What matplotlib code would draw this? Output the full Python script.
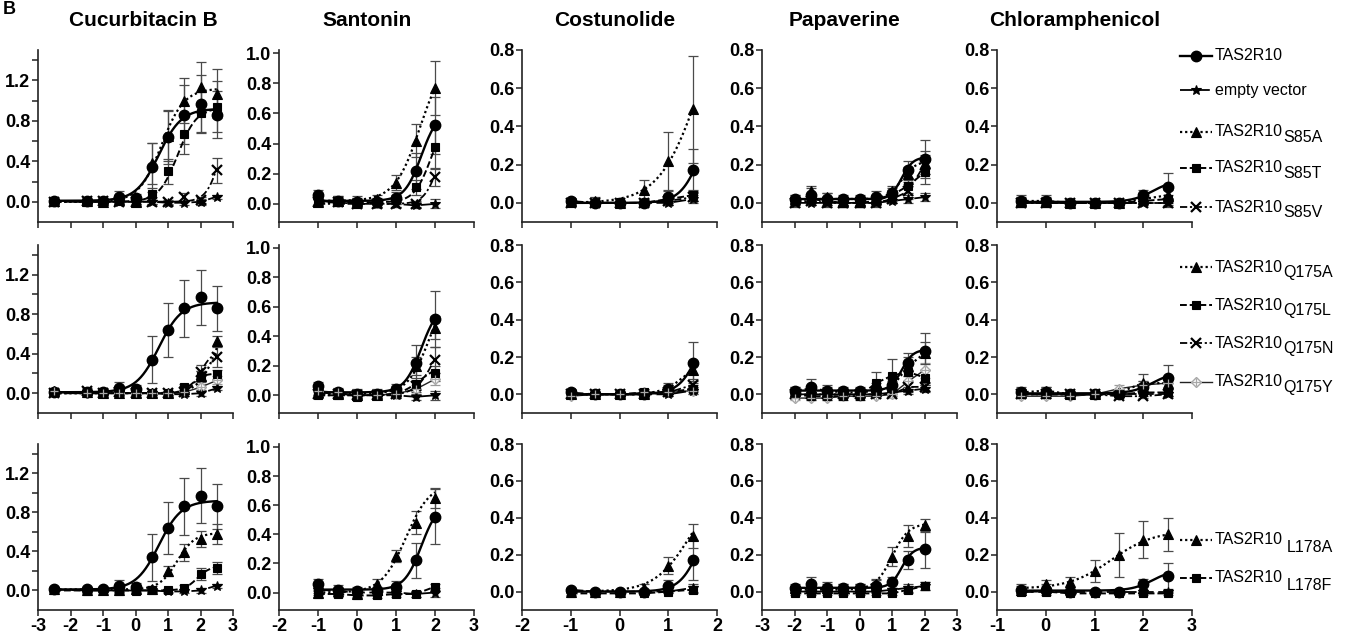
import numpy as np
import matplotlib
matplotlib.use('Agg')
import matplotlib.pyplot as plt

plt.rcParams['font.family'] = ['Liberation Sans', 'DejaVu Sans']
plt.rcParams['axes.unicode_minus'] = False

W, H = 1346, 637

# ---------------------------------------------------------------------------
# data: log concentration (x), mean response, SD, optional Hill fit
# fit = [bottom, top, logEC50, hill slope]; None -> points joined directly
# ---------------------------------------------------------------------------
# Cucurbitacin B
cuc_x = [-2.5, -1.5, -1, -0.5, 0, 0.5, 1, 1.5, 2, 2.5]
cuc_wt = [0.01, 0.01, 0.01, 0.05, 0.04, 0.34, 0.64, 0.86, 0.97, 0.86]
cuc_wt_sd = [0.02, 0.02, 0.03, 0.06, 0.04, 0.24, 0.27, 0.29, 0.28, 0.23]
cuc_wt_fit = [0.01, 0.92, 0.72, 1.25]
cuc_ev = [0.01, 0.0, 0.0, 0.0, 0.0, 0.0, -0.01, -0.01, 0.0, 0.05]
cuc_ev_sd = [0.02, 0.02, 0.02, 0.02, 0.02, 0.02, 0.02, 0.02, 0.03, 0.02]
cuc_s85a = [0.01, 0.01, 0.0, 0.02, 0.0, 0.38, 0.65, 1.0, 1.13, 1.07]
cuc_s85a_sd = [0.02, 0.02, 0.03, 0.03, 0.03, 0.2, 0.25, 0.22, 0.25, 0.24]
cuc_s85a_fit = [0.0, 1.12, 0.8, 1.25]
cuc_s85t = [0.0, 0.0, 0.0, 0.03, 0.0, 0.08, 0.3, 0.67, 0.88, 0.94]
cuc_s85t_sd = [0.02, 0.02, 0.03, 0.04, 0.02, 0.06, 0.12, 0.2, 0.2, 0.25]
cuc_s85t_fit = [0.0, 0.93, 1.3, 1.5]
cuc_s85v = [0.0, 0.01, 0.01, 0.0, 0.0, 0.0, 0.0, 0.05, 0.02, 0.31]
cuc_s85v_sd = [0.02, 0.02, 0.02, 0.02, 0.02, 0.02, 0.02, 0.04, 0.03, 0.12]
cuc_s85v_fit = [0.0, 1.0, 2.65, 2.0]
cuc_q175a = [0.02, 0.01, 0.0, 0.0, 0.0, 0.0, 0.0, 0.04, 0.17, 0.53]
cuc_q175a_sd = [0.02, 0.02, 0.03, 0.02, 0.02, 0.02, 0.02, 0.03, 0.06, 0.05]
cuc_q175a_fit = [0.0, 1.0, 2.55, 1.5]
cuc_q175l = [0.01, 0.0, 0.01, 0.0, 0.0, 0.0, 0.0, 0.06, 0.17, 0.19]
cuc_q175l_sd = [0.02, 0.02, 0.02, 0.02, 0.02, 0.02, 0.02, 0.03, 0.05, 0.05]
cuc_q175l_fit = [0.0, 0.2, 1.75, 2.5]
cuc_q175n = [0.0, 0.02, 0.0, 0.01, 0.0, 0.0, 0.0, 0.01, 0.21, 0.37]
cuc_q175n_sd = [0.02, 0.03, 0.02, 0.02, 0.02, 0.02, 0.02, 0.02, 0.08, 0.1]
cuc_q175n_fit = [0.0, 0.42, 2.0, 2.5]
cuc_q175y = [0.02, 0.0, 0.0, 0.0, 0.0, 0.0, 0.0, 0.01, 0.06, 0.13]
cuc_q175y_sd = [0.02, 0.02, 0.02, 0.02, 0.02, 0.02, 0.02, 0.02, 0.03, 0.04]
cuc_l178a = [0.01, 0.0, 0.0, 0.0, 0.01, 0.02, 0.2, 0.39, 0.53, 0.58]
cuc_l178a_sd = [0.02, 0.02, 0.02, 0.02, 0.02, 0.03, 0.05, 0.09, 0.08, 0.1]
cuc_l178a_fit = [0.01, 0.59, 1.28, 1.6]
cuc_l178f = [0.0, -0.01, 0.0, -0.01, -0.01, 0.0, 0.0, 0.03, 0.17, 0.23]
cuc_l178f_sd = [0.02, 0.02, 0.02, 0.02, 0.02, 0.02, 0.02, 0.03, 0.06, 0.06]
cuc_l178f_fit = [0.0, 0.25, 1.9, 2.2]

# Santonin
san_x = [-1, -0.5, 0, 0.5, 1, 1.5, 2]
san_wt = [0.06, 0.02, 0.01, 0.01, 0.04, 0.22, 0.52]
san_wt_sd = [0.03, 0.03, 0.03, 0.03, 0.04, 0.12, 0.19]
san_wt_fit = [0.02, 0.62, 1.65, 2.0]
san_ev = [0.02, 0.01, 0.0, 0.0, 0.0, -0.01, 0.0]
san_ev_sd = [0.02, 0.02, 0.02, 0.02, 0.02, 0.02, 0.03]
san_s85a = [0.01, 0.02, 0.02, 0.03, 0.14, 0.42, 0.77]
san_s85a_sd = [0.02, 0.03, 0.03, 0.03, 0.05, 0.11, 0.18]
san_s85a_fit = [0.02, 1.0, 1.62, 1.34]
san_s85t = [0.02, 0.01, 0.0, 0.01, 0.03, 0.11, 0.38]
san_s85t_sd = [0.02, 0.02, 0.02, 0.02, 0.03, 0.05, 0.15]
san_s85t_fit = [0.01, 0.6, 1.9, 2.0]
san_s85v = [0.01, 0.01, 0.0, 0.0, 0.0, 0.0, 0.18]
san_s85v_sd = [0.02, 0.02, 0.02, 0.02, 0.02, 0.02, 0.06]
san_s85v_fit = [0.0, 0.45, 2.05, 2.5]
san_q175a = [0.02, 0.01, 0.0, 0.0, 0.03, 0.2, 0.46]
san_q175a_sd = [0.02, 0.02, 0.02, 0.02, 0.03, 0.06, 0.08]
san_q175a_fit = [0.01, 0.75, 1.85, 1.6]
san_q175l = [0.0, 0.0, -0.01, 0.0, 0.02, 0.08, 0.15]
san_q175l_sd = [0.02, 0.02, 0.02, 0.02, 0.02, 0.04, 0.05]
san_q175l_fit = [0.0, 0.2, 1.6, 1.8]
san_q175n = [0.01, 0.01, 0.0, 0.0, 0.01, 0.06, 0.24]
san_q175n_sd = [0.02, 0.02, 0.02, 0.02, 0.02, 0.04, 0.09]
san_q175n_fit = [0.0, 0.5, 2.0, 1.8]
san_q175y = [0.03, 0.02, 0.0, 0.0, 0.01, 0.04, 0.11]
san_q175y_sd = [0.02, 0.02, 0.02, 0.02, 0.02, 0.03, 0.04]
san_l178a = [0.0, 0.01, -0.01, 0.06, 0.25, 0.48, 0.65]
san_l178a_sd = [0.02, 0.02, 0.02, 0.03, 0.04, 0.08, 0.07]
san_l178a_fit = [0.0, 0.75, 1.25, 1.4]
san_l178f = [-0.01, -0.01, -0.02, -0.02, -0.01, -0.01, 0.04]
san_l178f_sd = [0.02, 0.02, 0.02, 0.02, 0.02, 0.02, 0.02]

# Costunolide
cos_x = [-1, -0.5, 0, 0.5, 1, 1.5]
cos_wt = [0.01, 0.0, 0.0, 0.0, 0.03, 0.17]
cos_wt_sd = [0.01, 0.01, 0.01, 0.01, 0.03, 0.11]
cos_wt_fit = [0.0, 0.55, 1.7, 2.0]
cos_ev = [0.01, 0.0, 0.0, 0.0, 0.0, 0.02]
cos_ev_sd = [0.01, 0.01, 0.01, 0.01, 0.01, 0.02]
cos_s85a = [0.01, 0.01, 0.0, 0.07, 0.22, 0.49]
cos_s85a_sd = [0.01, 0.02, 0.01, 0.05, 0.15, 0.28]
cos_s85a_fit = [0.0, 1.2, 1.65, 1.05]
cos_s85t = [0.0, 0.0, 0.0, 0.0, 0.02, 0.04]
cos_s85t_sd = [0.01, 0.01, 0.01, 0.01, 0.02, 0.03]
cos_s85v = [0.0, 0.0, 0.0, 0.0, 0.01, 0.03]
cos_s85v_sd = [0.01, 0.01, 0.01, 0.01, 0.02, 0.02]
cos_q175a = [0.0, 0.0, 0.0, 0.0, 0.03, 0.13]
cos_q175a_sd = [0.01, 0.01, 0.01, 0.01, 0.02, 0.05]
cos_q175l = [0.0, 0.0, 0.0, 0.01, 0.01, 0.03]
cos_q175l_sd = [0.01, 0.01, 0.01, 0.01, 0.01, 0.02]
cos_q175n = [0.0, 0.0, 0.0, 0.0, 0.01, 0.05]
cos_q175n_sd = [0.01, 0.01, 0.01, 0.01, 0.01, 0.02]
cos_q175y = [-0.01, 0.0, 0.0, 0.01, 0.01, 0.02]
cos_q175y_sd = [0.01, 0.01, 0.01, 0.01, 0.01, 0.02]
cos_l178a = [0.0, 0.0, 0.0, 0.02, 0.14, 0.3]
cos_l178a_sd = [0.01, 0.01, 0.01, 0.02, 0.045, 0.065]
cos_l178a_fit = [0.0, 0.6, 1.45, 1.2]
cos_l178f = [-0.01, -0.01, -0.01, -0.01, 0.0, 0.01]
cos_l178f_sd = [0.01, 0.01, 0.01, 0.01, 0.01, 0.02]

# Papaverine
pap_x = [-2, -1.5, -1, -0.5, 0, 0.5, 1, 1.5, 2]
pap_wt = [0.02, 0.04, 0.02, 0.02, 0.02, 0.03, 0.05, 0.17, 0.23]
pap_wt_sd = [0.02, 0.04, 0.03, 0.02, 0.02, 0.03, 0.03, 0.05, 0.1]
pap_wt_fit = [0.02, 0.24, 1.3, 2.5]
pap_ev = [0.0, 0.0, 0.0, 0.0, 0.0, 0.0, 0.01, 0.02, 0.03]
pap_ev_sd = [0.01, 0.01, 0.01, 0.01, 0.01, 0.01, 0.01, 0.02, 0.02]
pap_s85a = [0.02, 0.06, 0.03, 0.01, 0.01, 0.02, 0.06, 0.15, 0.21]
pap_s85a_sd = [0.02, 0.03, 0.02, 0.02, 0.02, 0.02, 0.03, 0.04, 0.06]
pap_s85a_fit = [0.02, 0.22, 1.3, 2.0]
pap_s85t = [0.01, 0.02, 0.01, 0.0, 0.0, 0.01, 0.04, 0.09, 0.16]
pap_s85t_sd = [0.02, 0.02, 0.02, 0.02, 0.02, 0.02, 0.03, 0.04, 0.06]
pap_s85v = [0.0, 0.01, 0.0, 0.0, 0.0, 0.0, 0.02, 0.06, 0.2]
pap_s85v_sd = [0.02, 0.02, 0.02, 0.02, 0.02, 0.02, 0.02, 0.04, 0.05]
pap_q175a = [0.02, 0.03, 0.02, 0.01, 0.01, 0.02, 0.04, 0.15, 0.22]
pap_q175a_sd = [0.02, 0.02, 0.02, 0.02, 0.02, 0.02, 0.03, 0.05, 0.06]
pap_q175l = [0.0, -0.01, -0.01, -0.01, -0.01, 0.06, 0.1, 0.12, 0.09]
pap_q175l_sd = [0.02, 0.02, 0.02, 0.02, 0.02, 0.06, 0.09, 0.05, 0.04]
pap_q175n = [0.0, 0.0, 0.0, 0.0, 0.0, 0.0, 0.0, 0.04, 0.04]
pap_q175n_sd = [0.01, 0.01, 0.01, 0.01, 0.01, 0.01, 0.01, 0.03, 0.02]
pap_q175y = [-0.02, -0.02, -0.02, -0.01, -0.01, -0.01, 0.0, 0.07, 0.13]
pap_q175y_sd = [0.01, 0.01, 0.01, 0.01, 0.01, 0.01, 0.02, 0.03, 0.04]
pap_l178a = [0.02, 0.02, 0.02, 0.02, 0.02, 0.04, 0.19, 0.3, 0.36]
pap_l178a_sd = [0.01, 0.02, 0.02, 0.02, 0.02, 0.03, 0.05, 0.06, 0.035]
pap_l178a_fit = [0.01, 0.37, 1.0, 1.7]
pap_l178f = [-0.01, -0.01, -0.01, -0.01, -0.01, -0.01, -0.01, 0.01, 0.03]
pap_l178f_sd = [0.01, 0.01, 0.01, 0.01, 0.01, 0.01, 0.01, 0.02, 0.02]

# Chloramphenicol
chl_x = [-0.5, 0, 0.5, 1, 1.5, 2, 2.5]
chl_wt = [0.01, 0.01, 0.0, 0.0, 0.0, 0.04, 0.085]
chl_wt_sd = [0.03, 0.03, 0.01, 0.01, 0.01, 0.03, 0.07]
chl_wt_fit = [0.005, 0.12, 2.2, 2.0]
chl_ev = [0.0, 0.0, 0.0, 0.0, 0.0, 0.0, 0.0]
chl_ev_sd = [0.01, 0.01, 0.01, 0.01, 0.01, 0.01, 0.01]
chl_s85a = [0.01, 0.01, 0.0, 0.0, 0.0, 0.02, 0.04]
chl_s85a_sd = [0.02, 0.02, 0.01, 0.01, 0.01, 0.02, 0.03]
chl_s85t = [0.0, 0.0, 0.0, 0.0, 0.0, 0.01, 0.02]
chl_s85t_sd = [0.01, 0.01, 0.01, 0.01, 0.01, 0.01, 0.02]
chl_s85v = [0.0, 0.0, 0.0, 0.0, 0.0, 0.0, 0.0]
chl_s85v_sd = [0.01, 0.01, 0.01, 0.01, 0.01, 0.01, 0.02]
chl_q175a = [0.01, 0.02, 0.0, 0.0, 0.01, 0.06, 0.06]
chl_q175a_sd = [0.02, 0.02, 0.01, 0.01, 0.01, 0.05, 0.03]
chl_q175l = [0.0, 0.0, 0.0, 0.0, 0.0, 0.01, 0.01]
chl_q175l_sd = [0.01, 0.01, 0.01, 0.01, 0.01, 0.01, 0.02]
chl_q175n = [0.0, 0.0, 0.0, 0.0, -0.01, -0.01, 0.0]
chl_q175n_sd = [0.01, 0.01, 0.01, 0.01, 0.01, 0.01, 0.01]
chl_q175y = [-0.01, -0.01, -0.01, 0.0, 0.03, 0.05, 0.06]
chl_q175y_sd = [0.01, 0.01, 0.01, 0.01, 0.02, 0.02, 0.03]
chl_l178a = [0.01, 0.04, 0.05, 0.11, 0.2, 0.28, 0.31]
chl_l178a_sd = [0.02, 0.02, 0.03, 0.06, 0.12, 0.1, 0.09]
chl_l178a_fit = [0.015, 0.33, 1.35, 1.0]
chl_l178f = [0.0, 0.0, -0.01, -0.01, -0.01, -0.01, -0.01]
chl_l178f_sd = [0.01, 0.01, 0.01, 0.01, 0.01, 0.01, 0.01]

compounds = ['Cucurbitacin B', 'Santonin', 'Costunolide', 'Papaverine', 'Chloramphenicol']
prefixes = ['cuc', 'san', 'cos', 'pap', 'chl']
x_ranges = [(-3, 3), (-2, 3), (-2, 2), (-3, 3), (-1, 3)]
y_ranges = [(-0.2, 1.5), (-0.12, 1.02), (-0.1, 0.8), (-0.1, 0.8), (-0.1, 0.8)]
row_series = [['s85a', 's85t', 's85v', 'ev', 'wt'],
              ['q175y', 'q175a', 'q175l', 'q175n', 'ev', 'wt'],
              ['l178a', 'l178f', 'ev', 'wt']]

# legend: key, main label, subscript
legend_entries = [('wt', 'TAS2R10', ''), ('ev', 'empty vector', ''),
                  ('s85a', 'TAS2R10', 'S85A'), ('s85t', 'TAS2R10', 'S85T'),
                  ('s85v', 'TAS2R10', 'S85V'),
                  ('q175a', 'TAS2R10', 'Q175A'), ('q175l', 'TAS2R10', 'Q175L'),
                  ('q175n', 'TAS2R10', 'Q175N'), ('q175y', 'TAS2R10', 'Q175Y'),
                  ('l178a', 'TAS2R10', 'L178A'), ('l178f', 'TAS2R10', 'L178F')]


def hill(x, bottom, top, logec, slope):
    return bottom + (top - bottom) / (1 + 10 ** (slope * (logec - x)))


def get_series(prefix, key):
    g = globals()
    y = g[f'{prefix}_{key}']
    sd = g[f'{prefix}_{key}_sd']
    fit = g.get(f'{prefix}_{key}_fit')
    return y, sd, fit


# line / marker styles
dotted = (0, (1, 1.3))
dashed = (0, (3.5, 1.5))
dashdot = (0, (4, 1.5, 1.2, 1.5))
longdash = (0, (7, 2.5))
styles = {
    'wt': dict(marker='o', ms=7.5, ls='-', lw=1.7, mfc='black', mec='black', mew=1, color='black'),
    'ev': dict(marker='*', ms=7.5, ls=longdash, lw=1.3, mfc='black', mec='black', mew=0.8, color='black'),
    'A': dict(marker='^', ms=6.8, ls=dotted, lw=1.6, mfc='black', mec='black', mew=0.8, color='black'),
    'sq': dict(marker='s', ms=6.2, ls=dashed, lw=1.4, mfc='black', mec='black', mew=0.8, color='black'),
    'x': dict(marker='x', ms=6.5, ls=dashdot, lw=1.3, mfc='black', mec='black', mew=1.6, color='black'),
    'Y': dict(marker='D', ms=5.5, ls='-', lw=1.0, mfc='white', mec='#a8a8a8', mew=1.0, color='#222222'),
}
style_of = {'wt': 'wt', 'ev': 'ev', 's85a': 'A', 'q175a': 'A', 'l178a': 'A',
            's85t': 'sq', 'q175l': 'sq', 'l178f': 'sq',
            's85v': 'x', 'q175n': 'x', 'q175y': 'Y'}

# ---------------------------------------------------------------------------
fig = plt.figure(figsize=(W / 100, H / 100), dpi=100)
fig.patch.set_facecolor('white')

col_left = [38, 279, 522, 762, 997]
col_width = 195
row_box = [(50, 222), (245, 413), (444, 610)]


def add_px_axes(left, top, width, bottom):
    return fig.add_axes([left / W, 1 - bottom / H, width / W, (bottom - top) / H])


def draw_series(ax, x, key, y, sd, fit):
    st = styles[style_of[key]]
    ecol = '#9a9a9a' if key == 'q175y' else '#4a4a4a'
    ax.errorbar(x, y, yerr=sd, fmt='none', ecolor=ecol, elinewidth=0.9,
                capsize=3.4, capthick=0.9, zorder=2)
    if fit is not None:
        xs = np.linspace(min(x), max(x), 200)
        ys = hill(xs, *fit)
    else:
        xs, ys = x, y
    ax.plot(xs, ys, ls=st['ls'], lw=st['lw'], color=st['color'], zorder=3)
    ax.plot(x, y, ls='none', marker=st['marker'], ms=st['ms'], mfc=st['mfc'],
            mec=st['mec'], mew=st['mew'], zorder=4)
    if key == 'q175y':
        ax.plot(x, y, ls='none', marker='+', ms=5.5, mec='#a8a8a8', mew=0.9, zorder=5)


for r, keys in enumerate(row_series):
    top, bottom = row_box[r]
    for c, prefix in enumerate(prefixes):
        ax = add_px_axes(col_left[c], top, col_width, bottom)
        x = globals()[f'{prefix}_x']
        for key in keys:
            y, sd, fit = get_series(prefix, key)
            draw_series(ax, x, key, y, sd, fit)

        ax.set_xlim(*x_ranges[c])
        ax.set_ylim(*y_ranges[c])
        for s in ['top', 'right']:
            ax.spines[s].set_visible(False)
        for s in ['left', 'bottom']:
            ax.spines[s].set_linewidth(1.2)
            ax.spines[s].set_color('#222222')

        xt = np.arange(x_ranges[c][0], x_ranges[c][1] + 1)
        ax.set_xticks(xt)
        if r == 2:
            ax.set_xticklabels([f'{v:d}' for v in xt], fontsize=13, fontweight='bold')
        else:
            ax.set_xticklabels([])
        if c == 0:
            yt = [0.0, 0.4, 0.8, 1.2]
            ax.set_yticks([0.2, 0.6, 1.0, 1.4], minor=True)
        elif c == 1:
            yt = [0.0, 0.2, 0.4, 0.6, 0.8, 1.0]
        else:
            yt = [0.0, 0.2, 0.4, 0.6, 0.8]
        ax.set_yticks(yt)
        ax.set_yticklabels([f'{v:.1f}' for v in yt], fontsize=13, fontweight='bold')
        ax.tick_params(which='both', direction='out', length=4, width=1.1,
                       color='#222222', pad=1.5)
        ax.patch.set_alpha(0)

# column titles
title_x = [143, 367, 615, 845, 1075]
for name, tx in zip(compounds, title_x):
    fig.text(tx / W, 1 - 20 / H, name, ha='center', va='center',
             fontsize=15, fontweight='bold')

# panel letter in the top-left corner
fig.text(3 / W, 1 - 1 / H, 'B', ha='left', va='top', fontsize=13, fontweight='bold')

# legend column on the right
lax = fig.add_axes([0, 0, 1, 1])
lax.set_xlim(0, W)
lax.set_ylim(H, 0)
lax.axis('off')
leg_y = [56, 90, 132, 168, 207, 267, 305, 343, 382, 540, 578]
for (key, label, sub), yy in zip(legend_entries, leg_y):
    st = styles[style_of[key]]
    lax.plot([1180, 1212], [yy, yy], ls=st['ls'], lw=st['lw'], color=st['color'])
    lax.plot([1196], [yy], ls='none', marker=st['marker'], ms=st['ms'],
             mfc=st['mfc'], mec=st['mec'], mew=st['mew'])
    if key == 'q175y':
        lax.plot([1196], [yy], ls='none', marker='+', ms=5.5, mec='#a8a8a8', mew=0.9)
    t = lax.text(1215, yy, label, ha='left', va='center', fontsize=11.5)
    if sub:
        gap = 3.0 if key.startswith('l178') else 0.3
        drop = -5.5 if key.startswith('l178') else -4.0
        lax.annotate(sub, xy=(1, 0.5), xycoords=t, xytext=(gap, drop),
                     textcoords='offset points', ha='left', va='center',
                     fontsize=11.5)

fig.savefig('out.png', dpi=100, facecolor='white')
